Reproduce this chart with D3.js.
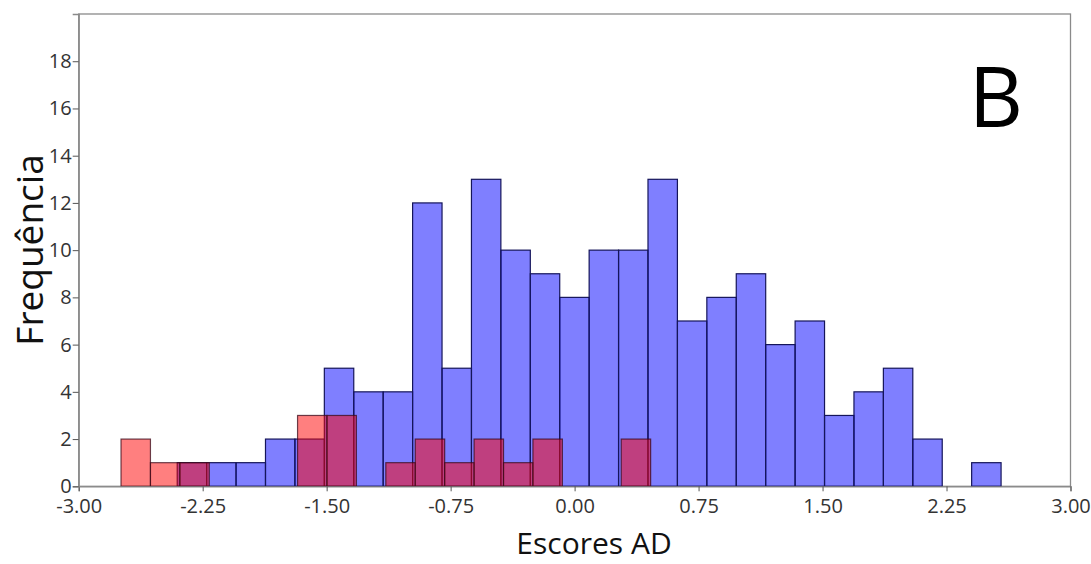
<!DOCTYPE html>
<html>
<head>
<meta charset="utf-8">
<script src="https://cdn.jsdelivr.net/npm/d3@7"></script>
<style>
  html, body { margin: 0; padding: 0; background: #fff; }
  svg { display: block; font-family: "Open Sans", sans-serif; }
</style>
</head>
<body>
<svg id="chart" width="1091" height="564"></svg>
<script>
// ---- Data ----
const binWidth = 0.178;
const blueStart = -2.404;
const blueCounts = [1,1,1,2,2,5,4,4,12,5,13,10,9,8,10,10,13,7,8,9,6,7,3,4,5,2,0,1];
const redStart = -2.744;
const redCounts = [2,1,1,0,0,0,3,3,0,1,2,1,2,1,2,0,0,2];
const xTicks = [-3.00,-2.25,-1.50,-0.75,0.00,0.75,1.50,2.25,3.00];
const yTicks = [0,2,4,6,8,10,12,14,16,18];
const xLabel = "Escores AD";
const yLabel = "Frequência";
const panelLabel = "B";

// ---- Layout ----
const W = 1091, H = 564;
const m = { left: 78.7, right: 20.5, top: 14, bottom: 77.7 };
const svg = d3.select("#chart");
const x = d3.scaleLinear().domain([-3, 3]).range([m.left, W - m.right]);
const y = d3.scaleLinear().domain([0, 20]).range([H - m.bottom, m.top]);

const toBins = (start, counts) => counts.map((c, i) => ({
  x0: start + i * binWidth, x1: start + (i + 1) * binWidth, n: c
})).filter(d => d.n > 0);

// frame
svg.append("rect")
  .attr("x", x(-3)).attr("y", y(20))
  .attr("width", x(3) - x(-3)).attr("height", y(0) - y(20))
  .attr("fill", "none").attr("stroke", "#8a8a8a").attr("stroke-width", 1.3);

// blue bars
svg.append("g").selectAll("rect").data(toBins(blueStart, blueCounts)).join("rect")
  .attr("x", d => x(d.x0)).attr("y", d => y(d.n))
  .attr("width", d => x(d.x1) - x(d.x0)).attr("height", d => y(0) - y(d.n))
  .attr("fill", "#0000ff").attr("fill-opacity", 0.5)
  .attr("stroke", "#15155a").attr("stroke-width", 1.2);

// red bars
svg.append("g").selectAll("rect").data(toBins(redStart, redCounts)).join("rect")
  .attr("x", d => x(d.x0)).attr("y", d => y(d.n))
  .attr("width", d => x(d.x1) - x(d.x0)).attr("height", d => y(0) - y(d.n))
  .attr("fill", "#ff0000").attr("fill-opacity", 0.5)
  .attr("stroke", "#3a0a1a").attr("stroke-opacity", 0.75).attr("stroke-width", 1.2);

// x axis
const gx = svg.append("g").attr("transform", `translate(0,${y(0)})`)
  .call(d3.axisBottom(x).tickValues(xTicks).tickFormat(d => d.toFixed(2)).tickSize(5).tickPadding(8));
gx.select(".domain").attr("stroke", "#8a8a8a").attr("stroke-width", 1.3);
gx.selectAll(".tick line").attr("stroke", "#555");
gx.selectAll(".tick text").attr("font-size", 20).attr("fill", "#333")
  .attr("font-family", "Open Sans, sans-serif");

// y axis
const gy = svg.append("g").attr("transform", `translate(${x(-3)},0)`)
  .call(d3.axisLeft(y).tickValues(yTicks).tickFormat(d => String(d)).tickSize(6).tickPadding(1));
gy.select(".domain").attr("stroke", "#8a8a8a").attr("stroke-width", 1.3);
gy.selectAll(".tick line").attr("stroke", "#555");
gy.selectAll(".tick text").attr("font-size", 20).attr("fill", "#333")
  .attr("font-family", "Open Sans, sans-serif");

// axis titles
svg.append("text").attr("x", 594).attr("y", 554)
  .attr("text-anchor", "middle").attr("font-size", 30).attr("fill", "#111").text(xLabel);
svg.append("text").attr("transform", "translate(43,250) rotate(-90)")
  .attr("text-anchor", "middle").attr("font-size", 37).attr("fill", "#111").text(yLabel);

// panel letter
svg.append("text").attr("x", 996).attr("y", 127)
  .attr("text-anchor", "middle").attr("font-size", 84).attr("fill", "#000").text(panelLabel);
</script>
</body>
</html>
